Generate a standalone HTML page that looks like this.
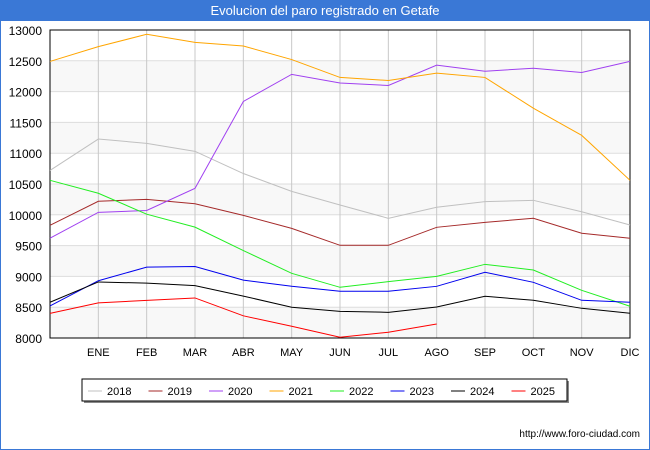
<!DOCTYPE html>
<html><head><meta charset="utf-8"><style>
body{margin:0;background:#fff;font-family:"Liberation Sans","DejaVu Sans",sans-serif}
#wrap{position:relative;width:648px;height:448px;border:1px solid #3a78d6;background:#fff}
#title{position:absolute;left:0;top:0;width:648px;height:20px;background:#3a78d6;color:#fff;font-size:13px;line-height:20px;text-align:center}
</style></head><body>
<div id="wrap">
<div id="title">Evolucion del paro registrado en Getafe</div>
<svg id="svg" width="650" height="450" style="position:absolute;left:-1px;top:-1px"></svg>
</div>
<script>
const months=["","ENE","FEB","MAR","ABR","MAY","JUN","JUL","AGO","SEP","OCT","NOV","DIC"];
const yTicks=[8000,8500,9000,9500,10000,10500,11000,11500,12000,12500,13000];
const seriesNames=["2018","2019","2020","2021","2022","2023","2024","2025"];
const seriesColors=["#c0c0c0","#a52a2a","#a040f0","#ffa500","#22ee22","#0000ee","#000000","#ff0000"];
const s2018=[10720,11230,11160,11030,10670,10380,10159,9943,10122,10213,10235,10050,9834];
const s2019=[9830,10220,10250,10180,9990,9780,9505,9505,9797,9878,9943,9700,9619];
const s2020=[9620,10040,10070,10430,11840,12280,12140,12100,12430,12330,12380,12310,12490];
const s2021=[12490,12730,12930,12800,12740,12520,12230,12180,12300,12230,11730,11290,10560];
const s2022=[10560,10350,10010,9800,9420,9050,8823,8915,9001,9196,9104,8774,8515];
const s2023=[8520,8930,9150,9160,8940,8840,8758,8758,8839,9067,8904,8612,8580];
const s2024=[8580,8910,8890,8850,8680,8500,8433,8417,8503,8677,8612,8482,8401];
const s2025=[8400,8570,8610,8650,8360,8190,8012,8093,8227];
const allSeries=[s2018,s2019,s2020,s2021,s2022,s2023,s2024,s2025];
const L=50,R=630,T=30,B=338,ymin=8000,ymax=13000;
const X=i=>L+i*(R-L)/12;
const Y=v=>B-(v-ymin)/(ymax-ymin)*(B-T);
const svg=document.getElementById('svg');
const NS="http://www.w3.org/2000/svg";
function mk(t,a,p){const e=document.createElementNS(NS,t);for(const k in a)e.setAttribute(k,a[k]);(p||svg).appendChild(e);return e;}
// bands
for(let i=0;i<yTicks.length-1;i++){
  if(i%2===0){const r=mk('rect',{x:L,y:Y(yTicks[i+1]),width:R-L,height:Y(yTicks[i])-Y(yTicks[i+1]),fill:'#f8f8f8'});
  
  }
}
yTicks.forEach(v=>{
  const l=mk('line',{x1:L,x2:R,y1:Y(v),y2:Y(v),stroke:'#dddddd','stroke-width':1});
  
  
  const t=mk('text',{x:L-8,y:Y(v)+5,'text-anchor':'end','font-size':12,fill:'#000'});
  t.textContent=v;
  
  
});
months.forEach((m,i)=>{
  if(i===0)return;
  const l=mk('line',{x1:X(i),x2:X(i),y1:T,y2:B,stroke:'#c8c8c8','stroke-width':1});
  
  
  const t=mk('text',{x:X(i),y:B+18,'text-anchor':'middle','font-size':11,fill:'#000'});
  t.textContent=m;
  
  
});
const ax=mk('rect',{x:L,y:T,width:R-L,height:B-T,fill:'none',stroke:'#000','stroke-width':1});


allSeries.forEach((s,k)=>{
  const p=mk('polyline',{points:s.map((v,i)=>X(i)+','+Y(v)).join(' '),fill:'none',stroke:seriesColors[k],'stroke-width':1});
  
  
});
// legend
const lg=mk('g',{});


mk('rect',{x:84,y:381,width:485,height:22,fill:'#888'},lg);
mk('rect',{x:82,y:379,width:485,height:22,fill:'#fff',stroke:'#000','stroke-width':1},lg);
seriesNames.forEach((n,k)=>{
  const x0=88+k*60.5;
  const g=mk('g',{},lg);
  
  
  mk('line',{x1:x0,x2:x0+14,y1:391,y2:391,stroke:seriesColors[k],'stroke-width':1},g);
  const t=mk('text',{x:x0+19,y:395,'font-size':11,fill:'#000'},g);
  t.textContent=n;
});
const u=mk('text',{x:640,y:437,'text-anchor':'end','font-size':10,fill:'#000'});
u.textContent='http://www.foro-ciudad.com';


</script>
</body></html>
